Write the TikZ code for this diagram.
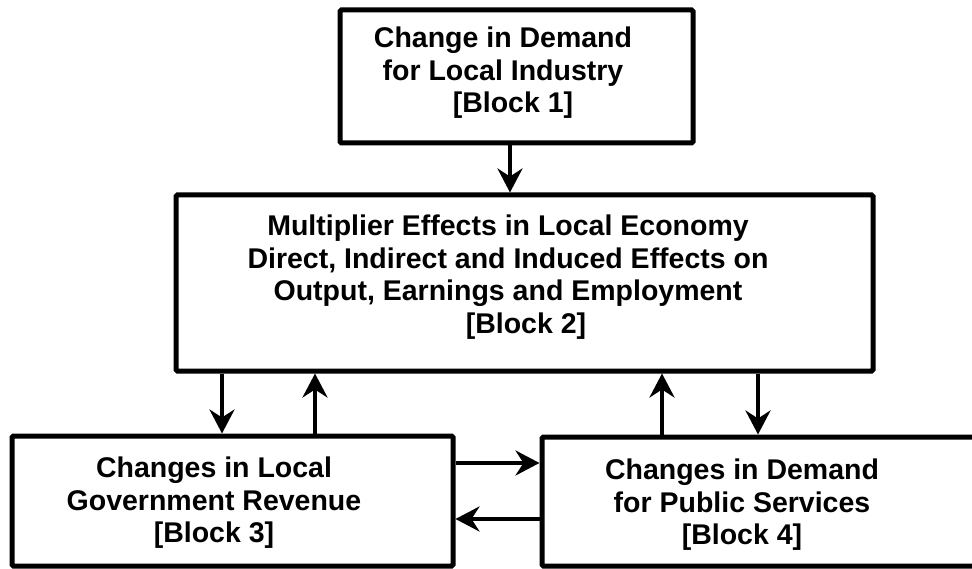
\documentclass[tikz,border=0pt]{standalone}
\usepackage{fontspec}
\setmainfont{Liberation Sans}
\usetikzlibrary{arrows.meta}
\usetikzlibrary{positioning}

\tikzset{
  block/.style = {rectangle, draw=black, line width=5pt, rounded corners=1.5pt, inner sep=0pt},
  blocktext/.style = {align=center, inner sep=0pt, font=\bfseries\fontsize{28.5}{32.5}\selectfont},
  arr/.style = {-{Stealth[length=24pt, width=25pt, inset=8pt]}, line width=4.5pt, draw=black}
}

\begin{document}
\begin{tikzpicture}[x=1pt, y=-1pt]
\useasboundingbox (0,0) rectangle (972,569);
\clip (0,0) rectangle (972,569);
% blocks
\node [block, minimum width=353pt, minimum height=133pt] (B1) at (516.5, 76.5) {};
\node [block, minimum width=697pt, minimum height=176pt] (B2) at (524.5, 283) {};
\node [block, minimum width=441pt, minimum height=130pt] (B3) at (232.5, 501) {};
\node [block, minimum width=460pt, minimum height=129pt] (B4) at (772, 501.5) {};
% block labels
\node [blocktext] (T1) at (503, 73) {Change in Demand\\for Local Industry\\\hspace*{20pt}[Block 1]};
\node [blocktext] (T2) at (508, 277) {Multiplier Effects in Local Economy\\Direct, Indirect and Induced Effects on\\Output, Earnings and Employment\\\hspace*{36pt}[Block 2]};
\node [blocktext] (T3) at (214, 503) {Changes in Local\\Government Revenue\\{}[Block 3]};
\node [blocktext] (T4) at (742, 505) {Changes in Demand\\for Public Services\\{}[Block 4]};
% where the links run
\coordinate (x1) at (510, 0);
\coordinate (x2) at (222, 0);
\coordinate (x3) at (315, 0);
\coordinate (x4) at (662, 0);
\coordinate (x5) at (758, 0);
\coordinate (y1) at (0, 463);
\coordinate (y2) at (0, 519);
\draw [arr] (B1.south -| x1) -- (B2.north -| x1);
\draw [arr] (B2.south -| x2) -- (B3.north -| x2);
\draw [arr] (B3.north -| x3) -- (B2.south -| x3);
\draw [arr] (B4.north -| x4) -- (B2.south -| x4);
\draw [arr] (B2.south -| x5) -- (B4.north -| x5);
\draw [arr] (B3.east |- y1) -- (B4.west |- y1);
\draw [arr] (B4.west |- y2) -- (B3.east |- y2);
\end{tikzpicture}
\end{document}
